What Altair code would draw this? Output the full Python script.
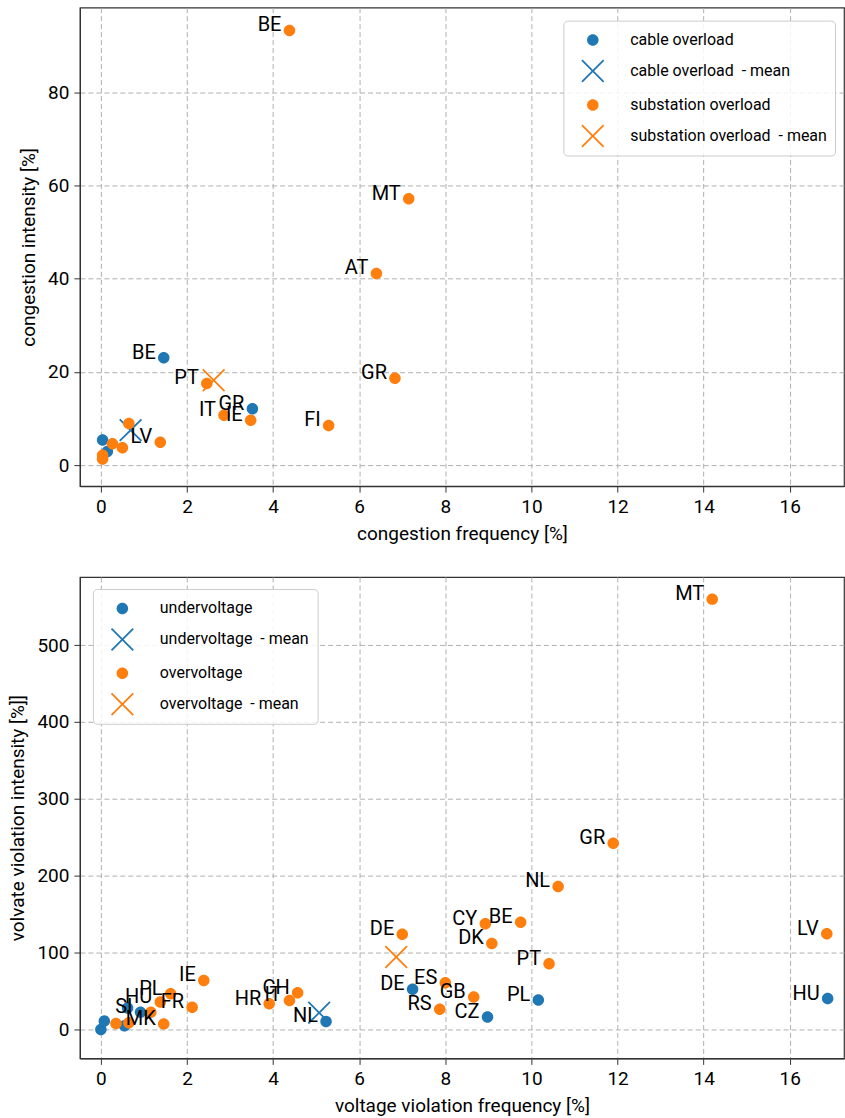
import altair as alt
import pandas as pd

FONT = "Roboto"
BLUE = "#1f77b4"
ORANGE = "#ff7f0e"

# ---------------- top panel data ----------------
top_series = ["cable overload", "cable overload \u00a0- mean",
              "substation overload", "substation overload \u00a0- mean"]
cable_freq = [1.46, 3.52, 0.04, 0.15]
cable_int = [23.0, 12.1, 5.4, 2.9]
cable_lab = ["BE", "GR", "", ""]
cable_mean = [0.69, 7.5]
sub_freq = [4.38, 7.15, 6.40, 6.83, 5.29, 2.46, 2.86, 3.48, 1.38, 0.65, 0.27, 0.50, 0.04, 0.04]
sub_int = [93.2, 57.1, 41.1, 18.6, 8.5, 17.5, 10.7, 9.6, 4.9, 8.9, 4.6, 3.7, 2.1, 1.3]
sub_lab = ["BE", "MT", "AT", "GR", "FI", "PT", "IT", "IE", "LV", "", "", "", "", ""]
sub_mean = [2.62, 18.2]

# ---------------- bottom panel data ----------------
bot_series = ["undervoltage", "undervoltage \u00a0- mean",
              "overvoltage", "overvoltage \u00a0- mean"]
under_freq = [10.16, 16.88, 7.24, 8.98, 5.23, 0.92, 0.62, 0.0, 0.08, 0.55]
under_int = [38.5, 40.3, 52.4, 16.2, 10.6, 22.5, 28.0, 0.0, 11.0, 5.0]
under_lab = ["PL", "HU", "DE", "CZ", "NL", "SI", "", "", "", ""]
under_mean = [5.07, 22.0]
over_freq = [14.20, 11.90, 10.62, 9.75, 8.93, 9.08, 10.41, 16.86, 7.00, 8.00, 8.66, 7.87,
             4.57, 4.38, 3.91, 2.39, 2.12, 1.62, 1.38, 1.46, 0.35, 0.65, 1.16]
over_int = [559.7, 242.4, 186.1, 139.5, 137.7, 112.0, 85.7, 124.7, 123.8, 61.0, 42.4, 26.4,
            47.8, 37.8, 33.5, 63.9, 29.1, 46.5, 35.7, 7.4, 8.0, 9.0, 22.6]
over_lab = ["MT", "GR", "NL", "BE", "CY", "DK", "PT", "LV", "DE", "ES", "GB", "RS",
            "CH", "IT", "HR", "IE", "FR", "PL", "HU", "MK", "", "", ""]
over_mean = [6.86, 94.4]

x_ticks = [0, 2, 4, 6, 8, 10, 12, 14, 16]
top_yticks = [0, 20, 40, 60, 80]
bot_yticks = [0, 100, 200, 300, 400, 500]

# marker shapes (unit-square paths)
DOT = "M0.5,0A0.5,0.5 0 1,1 -0.5,0A0.5,0.5 0 1,1 0.5,0Z"
d = 0.11
XSHAPE = (f"M-1,{-1+d}L{-1+d},-1L0,{-d}L{1-d},-1L1,{-1+d}L{d},0L1,{1-d}"
          f"L{1-d},1L0,{d}L{-1+d},1L-1,{1-d}L{-d},0Z")


def build_df(names, pts_a, mean_a, pts_b, mean_b):
    rows = []
    fx, fy, labs = pts_a
    for a, b, l in zip(fx, fy, labs):
        rows.append({"f": a, "v": b, "s": names[0], "lab": l})
    rows.append({"f": mean_a[0], "v": mean_a[1], "s": names[1], "lab": ""})
    fx, fy, labs = pts_b
    for a, b, l in zip(fx, fy, labs):
        rows.append({"f": a, "v": b, "s": names[2], "lab": l})
    rows.append({"f": mean_b[0], "v": mean_b[1], "s": names[3], "lab": ""})
    return pd.DataFrame(rows)


df_top = build_df(top_series, (cable_freq, cable_int, cable_lab), cable_mean,
                  (sub_freq, sub_int, sub_lab), sub_mean)
df_bot = build_df(bot_series, (under_freq, under_int, under_lab), under_mean,
                  (over_freq, over_int, over_lab), over_mean)

W = 765
XDOM = [-0.487, 17.26]


def panel(df, names, ydom, yvals, xtitle, ytitle, legx, legy, h):
    xs = alt.Scale(domain=XDOM, nice=False, zero=False)
    ys = alt.Scale(domain=ydom, nice=False, zero=False)
    leg = alt.Legend(title=None, orient="none", legendX=legx, legendY=legy)
    base = alt.Chart(df).encode(
        x=alt.X("f:Q", scale=xs, axis=alt.Axis(values=x_ticks, title=xtitle)),
        y=alt.Y("v:Q", scale=ys, axis=alt.Axis(values=yvals, title=ytitle)),
    )
    pts = base.mark_point(filled=True, opacity=1, size=529).encode(
        color=alt.Color("s:N", scale=alt.Scale(domain=names, range=[BLUE, BLUE, ORANGE, ORANGE]),
                        legend=leg, sort=names),
        shape=alt.Shape("s:N", scale=alt.Scale(domain=names, range=[DOT, XSHAPE, DOT, XSHAPE]),
                        legend=leg, sort=names),
    )
    txt = base.transform_filter("datum.lab != ''").mark_text(
        align="right", baseline="alphabetic", dx=-8, dy=1, fontSize=20, font=FONT, color="black"
    ).encode(text="lab:N")
    return alt.layer(pts, txt).properties(width=W, height=h)


top = panel(df_top, top_series, [-4.5, 98.1], top_yticks,
            "congestion frequency [%]", "congestion intensity [%]", 484, 13, 479)
bot = panel(df_bot, bot_series, [-37.5, 588.5], bot_yticks,
            "voltage violation frequency [%]", "volvate violation intensity [%]]", 13, 12, 482)

chart = (
    alt.vconcat(top, bot, spacing=91, bounds="flush")
    .resolve_scale(color="independent", shape="independent")
    .resolve_legend(color="independent", shape="independent")
    .properties(padding={"left": 8, "top": 6, "right": 0, "bottom": 0})
    .configure(font=FONT)
    .configure_view(stroke="#333333", strokeWidth=1.2)
    .configure_axis(
        labelFont=FONT, labelFontSize=19, labelColor="black",
        titleFont=FONT, titleFontSize=19, titleFontWeight="normal", titleColor="black",
        tickColor="#333333", tickSize=6, domainColor="#333333", domainWidth=1.2,
        gridColor="#b0b0b0", gridDash=[5, 3], gridWidth=1, labelPadding=5,
    )
    .configure_axisY(titlePadding=9)
    .configure_axisX(titlePadding=8)
    .configure_legend(
        labelFont=FONT, labelFontSize=16, labelColor="black", labelLimit=400,
        fillColor="rgba(255,255,255,0.85)", strokeColor="#cccccc", cornerRadius=4,
        padding=8, symbolOffset=10, labelOffset=26, rowPadding=11,
        symbolSize=529, symbolStrokeWidth=0,
    )
)

chart.save("out.html", embed_options={"renderer": "svg", "actions": False})
